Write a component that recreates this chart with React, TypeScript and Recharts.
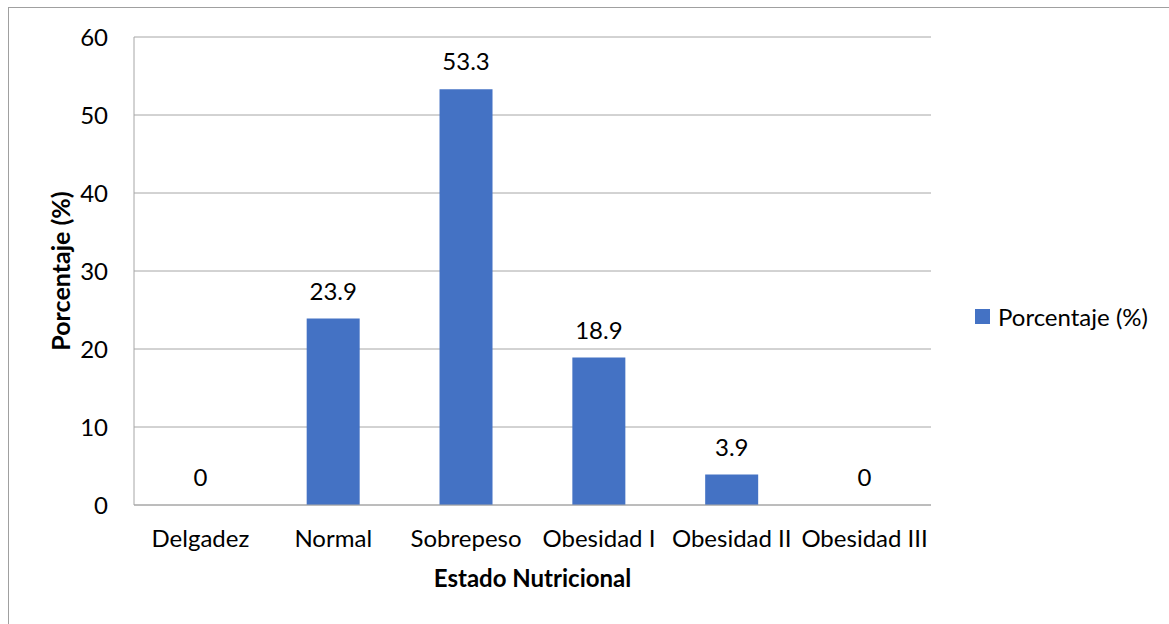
import React from 'react';
import { ComposedChart, Bar, Line, XAxis, YAxis, CartesianGrid, Legend, LabelList, Label } from 'recharts';

const categories = ['Delgadez', 'Normal', 'Sobrepeso', 'Obesidad I', 'Obesidad II', 'Obesidad III'];
const porcentaje = [0, 23.9, 53.3, 18.9, 3.9, 0];
const yTicks = [0, 10, 20, 30, 40, 50, 60];

const data = categories.map((name, i) => ({ name, value: porcentaje[i] }));

const FONT = 'Lato, "Open Sans", sans-serif';
const barColor = '#4472C4';
const gridColor = '#a6a6a6';

const YLabel = (props: any) => {
  const { viewBox } = props;
  const cx = 51;
  const cy = viewBox.y + viewBox.height / 2;
  return (
    <text
      x={cx}
      y={cy}
      transform={`rotate(-90, ${cx}, ${cy})`}
      textAnchor="middle"
      dominantBaseline="central"
      fontFamily={FONT}
      fontWeight="bold"
      fontSize={25}
      fill="#000"
    >
      Porcentaje (%)
    </text>
  );
};

const LegendContent = () => (
  <div style={{ paddingLeft: 44, display: 'flex', alignItems: 'center', fontFamily: FONT, fontSize: 24, color: '#000' }}>
    <span style={{ width: 15, height: 15, background: barColor, display: 'inline-block', marginRight: 8 }} />
    <span>Porcentaje (%)</span>
  </div>
);

export default function App() {
  return (
    <div style={{ position: 'absolute', left: 8, top: 7, width: 1170, height: 630, border: '1px solid #a0a0a0', boxSizing: 'border-box', background: '#fff', overflow: 'hidden' }}>
      <ComposedChart
        width={1160}
        height={616}
        data={data}
        margin={{ top: 29, right: 0, bottom: 19, left: 35 }}
        barCategoryGap="30%"
      >
        <CartesianGrid vertical={false} stroke={gridColor} />
        <XAxis
          dataKey="name"
          height={100}
          tickLine={false}
          tickSize={0}
          tickMargin={25}
          axisLine={{ stroke: gridColor }}
          interval={0}
          tick={{ fill: '#000', fontSize: 24, fontFamily: FONT }}
        >
          <Label
            value="Estado Nutricional"
            position="insideBottom"
            offset={18}
            style={{ fontFamily: FONT, fontWeight: 'bold', fontSize: 24, fill: '#000' }}
          />
        </XAxis>
        <YAxis
          width={90}
          domain={[0, 60]}
          ticks={yTicks}
          tickLine={false}
          tickSize={0}
          tickMargin={26}
          axisLine={{ stroke: gridColor }}
          tick={{ fill: '#000', fontSize: 24, fontFamily: FONT }}
        >
          <Label content={YLabel} />
        </YAxis>
        <Legend
          layout="vertical"
          align="right"
          verticalAlign="middle"
          wrapperStyle={{ width: 238 }}
          content={LegendContent}
        />
        <Bar dataKey="value" name="Porcentaje (%)" fill={barColor} isAnimationActive={false} />
        <Line
          dataKey="value"
          stroke="none"
          dot={false}
          activeDot={false}
          legendType="none"
          isAnimationActive={false}
        >
          <LabelList dataKey="value" position="top" offset={19} fill="#000" fontSize={24} fontFamily={FONT} />
        </Line>
      </ComposedChart>
    </div>
  );
}
